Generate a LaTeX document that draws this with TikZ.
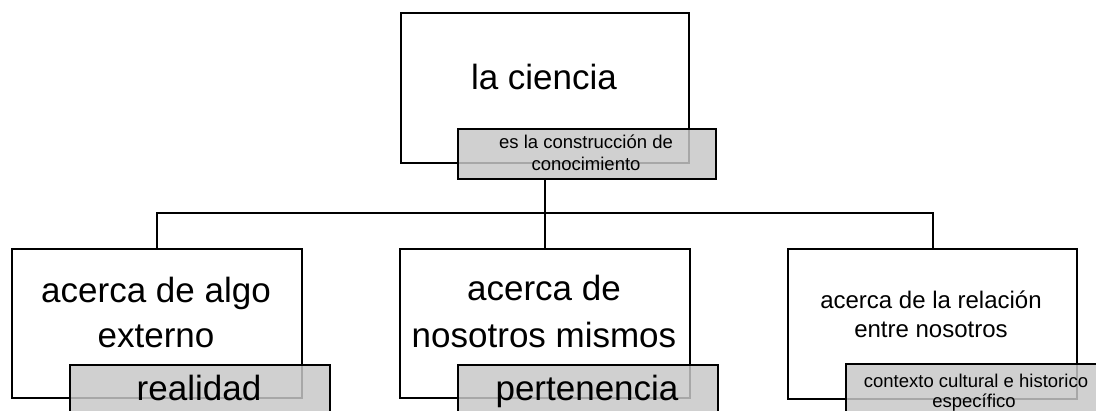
\documentclass[tikz,border=0pt]{standalone}
\usepackage{fontspec}
\setmainfont{Liberation Sans}
\definecolor{tagfill}{RGB}{199,199,199}
\begin{document}
\begin{tikzpicture}[x=1pt,y=-1pt,
  box/.style={draw=black, line width=2.2pt, fill=white, inner sep=0pt, anchor=north west},
  tag/.style={draw=black, line width=2.2pt, fill=tagfill, fill opacity=0.84, inner sep=0pt, anchor=north west},
  big/.style={font=\fontsize{35}{42}\selectfont, anchor=base, inner sep=0pt},
  mid/.style={font=\fontsize{24}{29}\selectfont, anchor=base, inner sep=0pt},
  small/.style={font=\fontsize{18.5}{22}\selectfont, anchor=base, inner sep=0pt},
  link/.style={line width=2.2pt}]
\useasboundingbox (0,0) rectangle (1096,410);
\clip (0,0) rectangle (1096,410);
% boxes
\node[box, minimum width=288pt, minimum height=150pt] (top) at (400,12) {};
\node[box, minimum width=290pt, minimum height=149pt] (lbox) at (11,248) {};
\node[box, minimum width=290pt, minimum height=149pt] (mbox) at (399,248) {};
\node[box, minimum width=289pt, minimum height=150pt] (rbox) at (787,248) {};
% tags
\node[tag, minimum width=258pt, minimum height=50pt] (toptag) at (457,128) {};
\node[tag, minimum width=260pt, minimum height=60pt] (ltag) at (69,364) {};
\node[tag, minimum width=260pt, minimum height=60pt] (mtag) at (457,364) {};
\node[tag, minimum width=260pt, minimum height=60pt] (rtag) at (845,363) {};
% connectors
\coordinate (j) at (544,213);
\draw[link] (lbox.north) |- (j) -| (rbox.north);
\draw[link] (toptag.south -| mbox.north) -- (mbox.north);
% texts
\node[big] (t0) at (544,89) {la ciencia};
\node[small] (t0b) at (586,148) {es la construcción de};
\node[small] (t0c) at (586,170) {conocimiento};
\node[big] (l1) at (156,302) {acerca de algo};
\node[big] (l2) at (156,347) {externo};
\node[big] (l3) at (199,400) {realidad};
\node[big] (m1) at (544,300) {acerca de};
\node[big] (m2) at (544,347) {nosotros mismos};
\node[big] (m3) at (587,400) {pertenencia};
\node[mid] (r1) at (931,308) {acerca de la relación};
\node[mid] (r2) at (931,337) {entre nosotros};
\node[small] (r3) at (976,387) {contexto\ cultural e historico};
\node[small] (r4) at (974,407) {específico};
\end{tikzpicture}
\end{document}
